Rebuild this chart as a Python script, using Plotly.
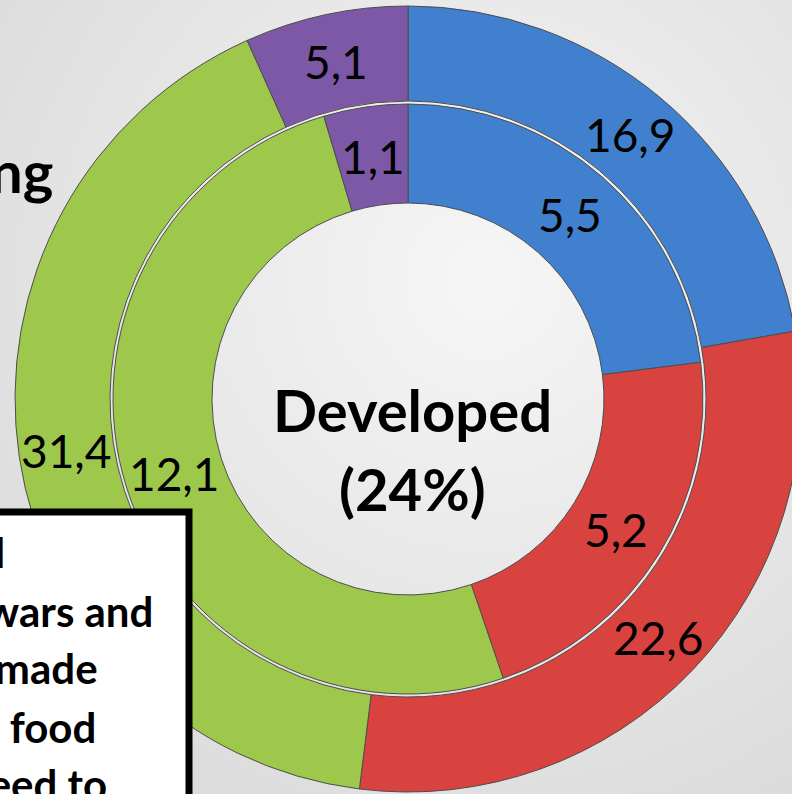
import math
import base64
import plotly.graph_objects as go

# ---- data ----
categories = ["Category A", "Category B", "Category C", "Category D"]
outer_values = [16.9, 22.6, 31.4, 5.1]
inner_values = [5.5, 5.2, 12.1, 1.1]
outer_text = ["16,9", "22,6", "31,4", "5,1"]
inner_text = ["5,5", "5,2", "12,1", "1,1"]
colors = ["#4080CE", "#D8433F", "#9DC84B", "#7D58A6"]
center_lines = ["Developed", "(24%)"]
left_title = "Developing"
box_lines = ["all", "civil wars and", "man-made", "disasters, food", "need to"]

# ---- geometry (pixels) ----
W, H = 806, 800
cx, cy = 408, 399
R_out = 393
hole_out = 298 / 393
R_in = 295
hole_in = 196 / 295


def dom(r):
    return dict(x=[(cx - r) / W, (cx + r) / W], y=[1 - (cy + r) / H, 1 - (cy - r) / H])


def px(x, y):
    return x / W, 1 - y / H


fig = go.Figure()
for vals, r, hole in [(outer_values, R_out, hole_out), (inner_values, R_in, hole_in)]:
    fig.add_trace(go.Pie(
        labels=categories, values=vals, hole=hole, domain=dom(r),
        sort=False, direction="clockwise", rotation=0,
        marker=dict(colors=colors, line=dict(color="#4d4d4d", width=1)),
        textinfo="none", hoverinfo="label+value", showlegend=False,
    ))

annotations = []
label_font = dict(family="Lato, Noto Sans, sans-serif", size=46, color="#000000")
for vals, texts, r, hole in [(outer_values, outer_text, R_out, hole_out),
                             (inner_values, inner_text, R_in, hole_in)]:
    total = sum(vals)
    cum = 0.0
    rm = (r + r * hole) / 2
    for v, t in zip(vals, texts):
        th = math.radians((cum + v / 2) / total * 360)
        cum += v
        x, y = px(cx + rm * math.sin(th), cy - rm * math.cos(th))
        annotations.append(dict(x=x, y=y, xref="paper", yref="paper", text=t,
                                showarrow=False, font=label_font,
                                xanchor="center", yanchor="middle"))

bold = dict(family="Lato, Noto Sans, sans-serif", size=58, color="#000000")
for t, yy in zip(center_lines, [410, 488]):
    x, y = px(cx + 4, yy)
    annotations.append(dict(x=x, y=y, xref="paper", yref="paper", text="<b>%s</b>" % t,
                            showarrow=False, font=bold, xanchor="center", yanchor="middle"))

x, y = px(55, 170)
annotations.append(dict(x=x, y=y, xref="paper", yref="paper", text="<b>%s</b>" % left_title,
                        showarrow=False, font=bold, xanchor="right", yanchor="middle"))

box_font = dict(family="Lato, DejaVu Sans, sans-serif", size=42, color="#000000")
for t, xr, yy in zip(box_lines, [7, 155, 100, 98, 109], [552, 611, 668, 727, 784]):
    x, y = px(xr, yy)
    annotations.append(dict(x=x, y=y, xref="paper", yref="paper", text="<b>%s</b>" % t,
                            showarrow=False, font=box_font, xanchor="right", yanchor="middle"))

shapes = [dict(type="rect", xref="paper", yref="paper",
               x0=-0.1, x1=189 / W, y0=-0.1, y1=1 - 512 / H,
               fillcolor="#ffffff", line=dict(color="#000000", width=7), layer="above")]

svg = ('<svg xmlns="http://www.w3.org/2000/svg" width="806" height="800">'
       '<defs><radialGradient id="g" cx="0.6" cy="0.35" r="0.8">'
       '<stop offset="0" stop-color="#f6f6f6"/><stop offset="1" stop-color="#d9d9d9"/>'
       '</radialGradient></defs><rect width="806" height="800" fill="url(#g)"/></svg>')
src = "data:image/svg+xml;base64," + base64.b64encode(svg.encode()).decode()

fig.update_layout(
    width=W, height=H, margin=dict(l=0, r=0, t=0, b=0),
    paper_bgcolor="#ebebeb", plot_bgcolor="#ebebeb",
    annotations=annotations, shapes=shapes,
    images=[dict(source=src, xref="paper", yref="paper", x=0, y=1, sizex=1, sizey=1,
                 xanchor="left", yanchor="top", sizing="stretch", layer="below")],
)

fig.write_html(
    "out.html",
    config={"displayModeBar": False},
    post_script="document.body.style.margin='0';document.body.style.overflow='hidden';"
                "document.documentElement.style.overflow='hidden';",
)
